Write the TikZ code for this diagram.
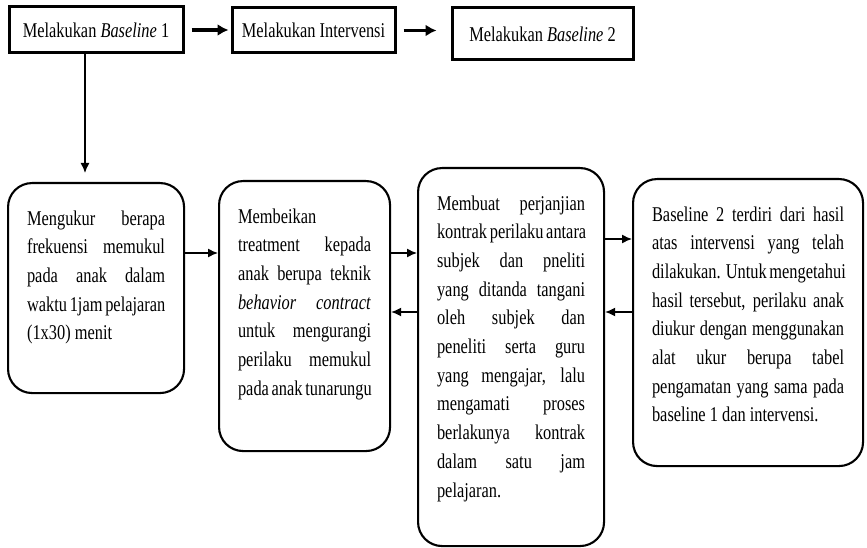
\documentclass[tikz,border=0pt]{standalone}
\usepackage{fontspec}
\setmainfont[FakeStretch=0.78]{Liberation Serif}
\usetikzlibrary{arrows.meta}
\newcommand{\jline}[1]{\makebox[\linewidth][s]{#1}\\}
\newcommand{\topline}{\rule{0pt}{21pt}}
\tikzset{
  headbox/.style={draw,line width=3pt,inner sep=0pt,font=\fontsize{21}{24}\selectfont},
  stepbox/.style={draw,line width=2.1pt,rounded corners=24pt,anchor=north west,
    inner xsep=19pt,inner ysep=21pt,font=\fontsize{21}{28.7}\selectfont},
  thinarrow/.style={-{Latex[length=10pt,width=9pt]},line width=1.4pt},
  thickarrow/.style={-{Latex[length=11pt,width=12pt]},line width=3.4pt}
}
\begin{document}
\begin{tikzpicture}[x=1pt,y=-1pt]
\useasboundingbox (0,0) rectangle (867,548);
\node[headbox,minimum width=174pt,minimum height=46pt] (base1) at (96,30) {Melakukan \textit{Baseline} 1};
\node[headbox,minimum width=163pt,minimum height=45pt] (interv) at (313.5,30.5) {Melakukan Intervensi};
\node[headbox,minimum width=181pt,minimum height=52pt] (base2) at (542.5,34) {Melakukan \textit{Baseline} 2};
\node[stepbox] (ukur) at (7,182) {\parbox[c][168pt][t]{138pt}{\topline\jline{Mengukur berapa}\jline{frekuensi memukul}\jline{pada anak dalam}\jline{waktu 1jam pelajaran}(1x30) menit}};
\node[stepbox] (treat) at (218,180) {\parbox[c][228pt][t]{133pt}{\topline Membeikan\\\jline{treatment kepada}\jline{anak berupa teknik}\jline{\textit{behavior contract}}\jline{untuk mengurangi}\jline{perilaku memukul}\makebox[\linewidth][s]{pada anak tunarungu}}};
\node[stepbox] (kontrak) at (417,167) {\parbox[c][336pt][t]{148pt}{\topline\jline{Membuat perjanjian}\jline{kontrak perilaku antara}\jline{subjek dan pneliti}\jline{yang ditanda tangani}\jline{oleh subjek dan}\jline{peneliti serta guru}\jline{yang mengajar, lalu}\jline{mengamati proses}\jline{berlakunya kontrak}\jline{dalam satu jam}pelajaran.}};
\node[stepbox] (hasil) at (632,178) {\parbox[c][245pt][t]{192pt}{\topline\jline{Baseline 2 terdiri dari hasil}\jline{atas intervensi yang telah}\jline{dilakukan. Untuk mengetahui}\jline{hasil tersebut, perilaku anak}\jline{diukur dengan menggunakan}\jline{alat ukur berupa tabel}\jline{pengamatan yang sama pada}baseline 1 dan intervensi.}};
\draw[thickarrow,shorten <=7pt,shorten >=2pt] (base1.east) -- (interv.west |- base1.east);
\draw[thickarrow,shorten <=7pt,shorten >=14pt] (interv.east) -- (base2.west |- interv.east);
\draw[thinarrow,shorten >=9pt] (base1.south -| 85,0) -- (ukur.north -| 85,0);
\draw[thinarrow] (ukur.east |- 0,253) -- (treat.west |- 0,253);
\draw[thinarrow] (treat.east |- 0,253) -- (kontrak.west |- 0,253);
\draw[thinarrow] (kontrak.west |- 0,312) -- (treat.east |- 0,312);
\draw[thinarrow] (kontrak.east |- 0,239) -- (hasil.west |- 0,239);
\draw[thinarrow] (hasil.west |- 0,312) -- (kontrak.east |- 0,312);
\end{tikzpicture}
\end{document}
